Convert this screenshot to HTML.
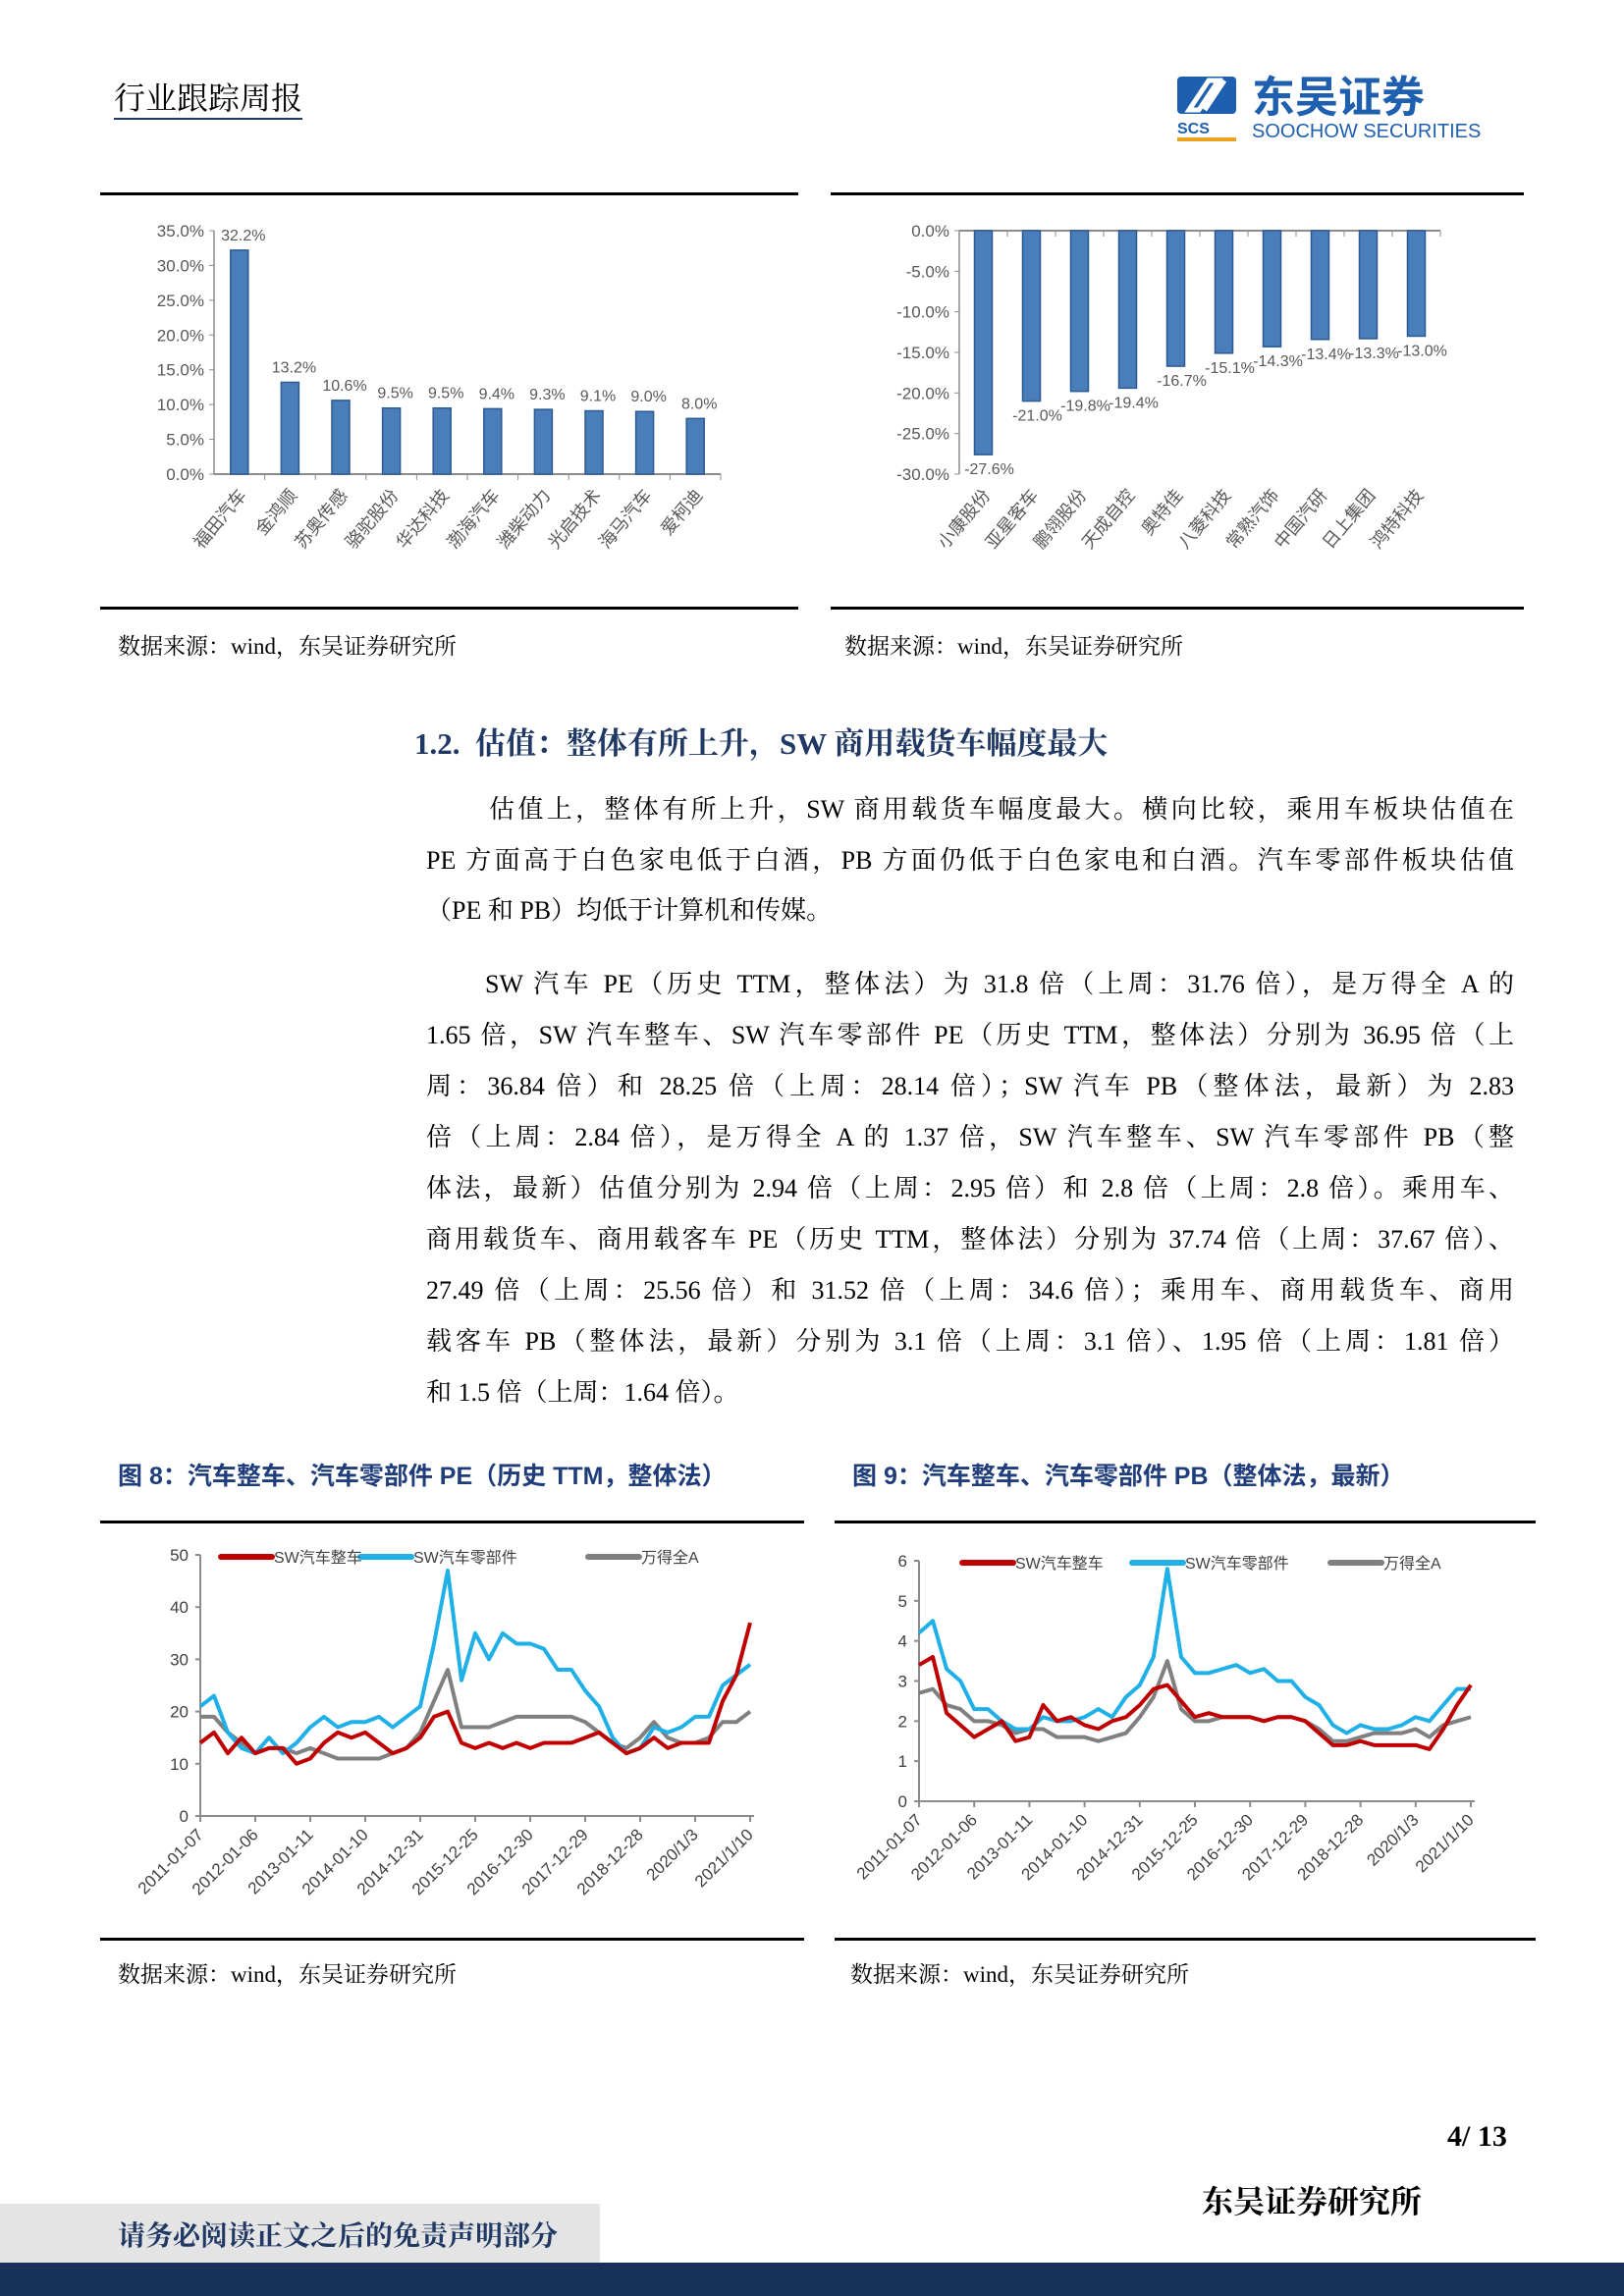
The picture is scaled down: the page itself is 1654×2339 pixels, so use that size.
<!DOCTYPE html>
<html><head><meta charset="utf-8">
<style>
*{margin:0;padding:0;box-sizing:border-box}
body{width:1654px;height:2339px;position:relative;background:#fff;overflow:hidden;font-family:"Liberation Serif","Noto Serif CJK SC",serif;color:#000}
.abs{position:absolute}
.rule{position:absolute;height:3px;background:#000}
.line{position:absolute;font-size:26px;text-align:justify;text-align-last:justify;white-space:nowrap;height:34px;line-height:34px}
.src{position:absolute;font-size:23px;font-family:"Liberation Serif","Noto Serif CJK SC",serif}
.ftitle{position:absolute;font-size:25px;font-weight:bold;color:#1f3d7a;font-family:"Liberation Sans","Noto Sans CJK SC",sans-serif}
svg text{font-family:"Liberation Sans","Noto Sans CJK SC",sans-serif}
</style></head><body>
<div class="abs" style="left:116px;top:80px;font-size:32px;font-family:'Liberation Serif','Noto Serif CJK SC',serif;border-bottom:2px solid #1f3864;line-height:40px">行业跟踪周报</div>
<div class="abs" style="left:1197px;top:74px;width:330px;height:72px">
  <svg width="330" height="72">
    <rect x="2" y="4" width="60" height="38" rx="4" fill="#1f5fb0"/>
    <path d="M14 38 L34 8 L44 8 L24 38Z M30 38 L50 8" stroke="#fff" stroke-width="5" fill="none"/>
    <text x="2" y="62" font-size="16" font-weight="bold" fill="#1f5fb0">SCS</text>
    <rect x="2" y="66" width="60" height="4" fill="#f0a020"/>
    <text x="78" y="40" font-size="44" font-weight="bold" fill="#1f5fb0" font-family="Liberation Sans,Noto Sans CJK SC,sans-serif">东吴证券</text>
    <text x="78" y="66" font-size="20" fill="#1f5fb0">SOOCHOW SECURITIES</text>
  </svg>
</div>

<div class="rule" style="left:102px;top:196px;width:711px"></div>
<div class="rule" style="left:846px;top:196px;width:706px"></div>
<svg class="abs" id="bar1" style="left:102px;top:200px" width="711" height="418"></svg>
<svg class="abs" id="bar2" style="left:846px;top:200px" width="706" height="418"></svg>
<div class="rule" style="left:102px;top:618px;width:711px"></div>
<div class="rule" style="left:846px;top:618px;width:706px"></div>
<div class="src" style="left:120px;top:640px">数据来源：wind，东吴证券研究所</div>
<div class="src" style="left:860px;top:640px">数据来源：wind，东吴证券研究所</div>

<div class="abs" style="left:422px;top:732px;font-size:31px;font-weight:bold;color:#1f3864;font-family:'Liberation Serif','Noto Serif CJK SC',serif">1.2.&nbsp; 估值：整体有所上升，SW 商用载货车幅度最大</div>

<div>
<div class="line" style="left:498px;top:808px;width:1044px">估值上，整体有所上升，SW 商用载货车幅度最大。横向比较，乘用车板块估值在</div>
<div class="line" style="left:434px;top:860px;width:1108px">PE 方面高于白色家电低于白酒，PB 方面仍低于白色家电和白酒。汽车零部件板块估值</div>
<div class="line" style="left:434px;top:911px;text-align-last:left">（PE 和 PB）均低于计算机和传媒。</div>
</div>
<div>
<div class="line" style="left:494px;top:986px;width:1048px">SW 汽车 PE（历史 TTM，整体法）为 31.8 倍（上周：31.76 倍），是万得全 A 的</div>
<div class="line" style="left:434px;top:1038px;width:1108px">1.65 倍，SW 汽车整车、SW 汽车零部件 PE（历史 TTM，整体法）分别为 36.95 倍（上</div>
<div class="line" style="left:434px;top:1090px;width:1108px">周：36.84 倍）和 28.25 倍（上周：28.14 倍）；SW 汽车 PB（整体法，最新）为 2.83</div>
<div class="line" style="left:434px;top:1142px;width:1108px">倍（上周：2.84 倍），是万得全 A 的 1.37 倍，SW 汽车整车、SW 汽车零部件 PB（整</div>
<div class="line" style="left:434px;top:1194px;width:1108px">体法，最新）估值分别为 2.94 倍（上周：2.95 倍）和 2.8 倍（上周：2.8 倍）。乘用车、</div>
<div class="line" style="left:434px;top:1246px;width:1108px">商用载货车、商用载客车 PE（历史 TTM，整体法）分别为 37.74 倍（上周：37.67 倍）、</div>
<div class="line" style="left:434px;top:1298px;width:1108px">27.49 倍（上周：25.56 倍）和 31.52 倍（上周：34.6 倍）；乘用车、商用载货车、商用</div>
<div class="line" style="left:434px;top:1350px;width:1108px">载客车 PB（整体法，最新）分别为 3.1 倍（上周：3.1 倍）、1.95 倍（上周：1.81 倍）</div>
<div class="line" style="left:434px;top:1402px;text-align-last:left">和 1.5 倍（上周：1.64 倍）。</div>
</div>

<div class="ftitle" style="left:120px;top:1484px">图 8：汽车整车、汽车零部件 PE（历史 TTM，整体法）</div>
<div class="ftitle" style="left:868px;top:1484px">图 9：汽车整车、汽车零部件 PB（整体法，最新）</div>
<div class="rule" style="left:102px;top:1549px;width:717px"></div>
<div class="rule" style="left:850px;top:1549px;width:714px"></div>
<svg class="abs" id="pe" style="left:102px;top:1553px" width="717" height="420"></svg>
<svg class="abs" id="pb" style="left:850px;top:1553px" width="714" height="420"></svg>
<div class="rule" style="left:102px;top:1974px;width:717px"></div>
<div class="rule" style="left:850px;top:1974px;width:714px"></div>
<div class="src" style="left:120px;top:1993px">数据来源：wind，东吴证券研究所</div>
<div class="src" style="left:866px;top:1993px">数据来源：wind，东吴证券研究所</div>

<div class="abs" style="left:1474px;top:2160px;font-size:30px;font-weight:bold">4/ 13</div>
<div class="abs" style="left:1224px;top:2218px;font-size:32px;font-weight:bold;font-family:'Liberation Serif','Noto Serif CJK SC',serif">东吴证券研究所</div>
<div class="abs" style="left:0;top:2245px;width:611px;height:60px;background:#e4e4e4"></div>
<div class="abs" style="left:120px;top:2256px;font-size:28px;font-weight:bold;color:#1f3864">请务必阅读正文之后的免责声明部分</div>
<div class="abs" style="left:0;top:2305px;width:1654px;height:34px;background:#17305a"></div>

<script>
const gainCats=["福田汽车","金鸿顺","苏奥传感","骆驼股份","华达科技","渤海汽车","潍柴动力","光启技术","海马汽车","爱柯迪"];
const gainVals=[32.2,13.2,10.6,9.5,9.5,9.4,9.3,9.1,9.0,8.0];
const gainTicks=[0,5,10,15,20,25,30,35];
const loseCats=["小康股份","亚星客车","鹏翎股份","天成自控","奥特佳","八菱科技","常熟汽饰","中国汽研","日上集团","鸿特科技"];
const loseVals=[-27.6,-21.0,-19.8,-19.4,-16.7,-15.1,-14.3,-13.4,-13.3,-13.0];
const loseTicks=[0,-5,-10,-15,-20,-25,-30];

const xLabels=["2011-01-07","2012-01-06","2013-01-11","2014-01-10","2014-12-31","2015-12-25","2016-12-30","2017-12-29","2018-12-28","2020/1/3","2021/1/10"];
const peTicks=[0,10,20,30,40,50];
const pbTicks=[0,1,2,3,4,5,6];
const peVehicle=[14,16,12,15,12,13,13,10,11,14,16,15,16,14,12,13,15,19,20,14,13,14,13,14,13,14,14,14,15,16,14,12,13,15,13,14,14,14,22,27,37];
const peParts=[21,23,16,13,12,15,12,14,17,19,17,18,18,19,17,19,21,33,47,26,35,30,35,33,33,32,28,28,24,21,15,12,13,17,16,17,19,19,25,27,29];
const peAll=[19,19,16,14,12,13,13,12,13,12,11,11,11,11,12,13,16,22,28,17,17,17,18,19,19,19,19,19,18,16,14,13,15,18,15,14,14,15,18,18,20];
const pbVehicle=[3.4,3.6,2.2,1.9,1.6,1.8,2.0,1.5,1.6,2.4,2.0,2.1,1.9,1.8,2.0,2.1,2.4,2.8,2.9,2.5,2.1,2.2,2.1,2.1,2.1,2.0,2.1,2.1,2.0,1.7,1.4,1.4,1.5,1.4,1.4,1.4,1.4,1.3,1.8,2.4,2.9];
const pbParts=[4.2,4.5,3.3,3.0,2.3,2.3,2.0,1.8,1.8,2.1,2.0,2.0,2.1,2.3,2.1,2.6,2.9,3.6,5.8,3.6,3.2,3.2,3.3,3.4,3.2,3.3,3.0,3.0,2.6,2.4,1.9,1.7,1.9,1.8,1.8,1.9,2.1,2.0,2.4,2.8,2.8];
const pbAll=[2.7,2.8,2.4,2.3,2.0,2.0,1.9,1.7,1.8,1.8,1.6,1.6,1.6,1.5,1.6,1.7,2.1,2.6,3.5,2.3,2.0,2.0,2.1,2.1,2.1,2.0,2.1,2.1,2.0,1.8,1.5,1.5,1.6,1.7,1.7,1.7,1.8,1.6,1.9,2.0,2.1];

const NS="http://www.w3.org/2000/svg";
function mk(parent,tag,attrs,text){const e=document.createElementNS(NS,tag);for(const k in attrs)e.setAttribute(k,attrs[k]);if(text!==undefined)e.textContent=text;parent.appendChild(e);return e;}

function barChart(id,cats,vals,ticks,x0,x1,yTop,yBot,vmin,vmax,neg){
  const svg=document.getElementById(id);
  const y=v=>yTop+(vmax-v)/(vmax-vmin)*(yBot-yTop);
  const slot=(x1-x0)/cats.length;
  const zeroY=y(0);
  mk(svg,'line',{x1:x0,y1:yTop,x2:x0,y2:yBot,stroke:'#8c8c8c','stroke-width':1.5});
  mk(svg,'line',{x1:x0,y1:zeroY,x2:x1,y2:zeroY,stroke:'#8c8c8c','stroke-width':2});
  ticks.forEach(t=>{
    const ty=y(t);
    mk(svg,'line',{x1:x0-5,y1:ty,x2:x0,y2:ty,stroke:'#8c8c8c'});
    const tl=mk(svg,'text',{x:x0-10,y:ty+6,'text-anchor':'end','font-size':17,fill:'#595959'},t.toFixed(1)+'%');
    
    
  });
  cats.forEach((c,i)=>{
    const cx=x0+slot*(i+0.5);
    const v=vals[i];
    const top=Math.min(y(v),zeroY),h=Math.abs(y(v)-zeroY);
    const b=mk(svg,'rect',{x:cx-9,y:top,width:18,height:h,fill:'#4a7ebb',stroke:'#2c5a92','stroke-width':1.5});
    
    
    const ly=neg?y(v)+20:y(v)-10;
    const lbl=mk(svg,'text',{x:cx+(neg?6:4),y:ly,'text-anchor':'middle','font-size':16,fill:'#595959'},v.toFixed(1)+'%');
    
    
    mk(svg,'line',{x1:x0+slot*(i+1),y1:zeroY,x2:x0+slot*(i+1),y2:zeroY+6,stroke:'#8c8c8c'});
    const by=(neg?yBot:zeroY)+22;
    const cl=mk(svg,'text',{x:cx+8,y:by,'text-anchor':'end','font-size':18,fill:'#595959',transform:`rotate(-50 ${cx+8} ${by})`},c);
    
    
  });
}
barChart('bar1',gainCats,gainVals,gainTicks,116,632,35,283,0,35,false);
barChart('bar2',loseCats,loseVals,loseTicks,131,621,35,283,-30,0,true);

function lineChart(id,series,colors,names,legX,ticks,x0,x1,yTop,yBot,vmax){
  const svg=document.getElementById(id);
  const y=v=>yBot-v/vmax*(yBot-yTop);
  mk(svg,'line',{x1:x0,y1:yTop,x2:x0,y2:yBot,stroke:'#8c8c8c','stroke-width':2});
  mk(svg,'line',{x1:x0,y1:yBot,x2:x1+4,y2:yBot,stroke:'#8c8c8c','stroke-width':2});
  ticks.forEach(t=>{
    const ty=y(t);
    mk(svg,'line',{x1:x0-5,y1:ty,x2:x0,y2:ty,stroke:'#8c8c8c','stroke-width':2});
    const tl=mk(svg,'text',{x:x0-12,y:ty+6,'text-anchor':'end','font-size':17,fill:'#404040','font-family':'Liberation Serif'},t);
    
    
  });
  const n=xLabels.length;
  xLabels.forEach((l,i)=>{
    const tx=x0+(x1-x0)*i/(n-1);
    mk(svg,'line',{x1:tx,y1:yBot,x2:tx,y2:yBot+6,stroke:'#8c8c8c','stroke-width':2});
    const tl=mk(svg,'text',{x:tx+4,y:yBot+20,'text-anchor':'end','font-size':17,fill:'#404040','font-family':'Liberation Serif',transform:`rotate(-45 ${tx+4} ${yBot+20})`},l);
    
    
  });
  series.forEach((s,k)=>{
    const N=s.length;
    const pts=s.map((v,i)=>`${x0+(x1-x0)*i/(N-1)},${y(v)}`).join(' ');
    const p=mk(svg,'polyline',{points:pts,fill:'none',stroke:colors[k],'stroke-width':4,'stroke-linejoin':'round'});
    
    
  });
  names.forEach((nm,k)=>{
    const g=mk(svg,'g',{});
    
    
    mk(g,'line',{x1:legX[k],y1:yTop+2,x2:legX[k]+52,y2:yTop+2,stroke:colors[k],'stroke-width':6,'stroke-linecap':'round'});
    mk(g,'text',{x:legX[k]+54,y:yTop+8,'font-size':16,fill:'#404040'},nm);
  });
}
// drawing order: gray, blue, red (red on top)
lineChart('pe',[peAll,peParts,peVehicle],['#808080','#1fb0e8','#c00000'],['万得全A','SW汽车零部件','SW汽车整车'],[497,265,123],peTicks,102,662,31,297,50);
lineChart('pb',[pbAll,pbParts,pbVehicle],['#808080','#1fb0e8','#c00000'],['万得全A','SW汽车零部件','SW汽车整车'],[505,303,130],pbTicks,86,648,37,282,6);
</script>
</body></html>
